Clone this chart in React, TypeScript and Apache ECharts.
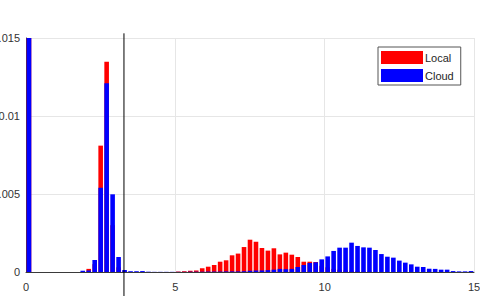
import React, { useEffect, useRef } from "react";
import * as echarts from "echarts";

// Histogram bins: 0.2 wide, starting at 0
const binStart = 0;
const binWidth = 0.2;

// Local (red) normalized counts per bin
const localValues = [
  0.015, 0, 0, 0, 0, 0, 0, 0, 0, 0,
  0.0002, 0.0005, 0.0081, 0.01348, 0.003, 0.0003, 0.00005, 0, 0, 0,
  0, 0, 0, 0, 0, 0.00003, 0.00005, 0.00008, 0.0001, 0.00024,
  0.00034, 0.00045, 0.00066, 0.00075, 0.00107, 0.00118, 0.0016, 0.00207, 0.00194, 0.00154,
  0.00137, 0.00152, 0.00113, 0.00124, 0.00111, 0.00096, 0.00066, 0.00066, 0.00064, 0.0004,
  0.0003, 0.0002, 0.00015, 0.0001, 0.00008, 0.00005, 0.00003, 0.00002, 0, 0,
  0, 0, 0, 0, 0, 0, 0, 0, 0, 0,
  0, 0, 0, 0, 0,
];

// Cloud (blue) normalized counts per bin
const cloudValues = [
  0.015, 0, 0, 0, 0, 0, 0, 0, 0, 0.00008,
  0.0001, 0.00077, 0.0054, 0.0121, 0.00498, 0.00096, 0.00013, 0.00005, 0.00005, 0.00006,
  0.00002, 0.00001, 0.00001, 0.00001, 0.00001, 0.00001, 0.00001, 0.00002, 0.00002, 0.00002,
  0.00003, 0.00003, 0.00003, 0.00004, 0.00004, 0.00004, 0.00005, 0.00008, 0.0001, 0.0001,
  0.00012, 0.00015, 0.0002, 0.00018, 0.0002, 0.00032, 0.00045, 0.00058, 0.00062, 0.00081,
  0.001, 0.00135, 0.00156, 0.00156, 0.00188, 0.00167, 0.00158, 0.00156, 0.00141, 0.00115,
  0.00098, 0.00092, 0.00073, 0.0006, 0.00049, 0.00034, 0.00032, 0.00021, 0.0002, 0.00015,
  0.00015, 0.00006, 0.00004, 0.00004, 0.00006,
];

// Vertical threshold marker
const thresholdX = 3.28;
const thresholdYRange = [-0.0017, 0.0153];

const seriesNames = ["Local", "Cloud"];
const xTicks = { min: 0, max: 15, interval: 5 };
const yTicks = { min: 0, max: 0.015, interval: 0.005 };

const toPoints = (vals: number[]) =>
  vals.map((v, i) => [binStart + binWidth * i + binWidth / 2, v]);

export default function App() {
  const ref = useRef<HTMLDivElement>(null);
  useEffect(() => {
    if (!ref.current) return;
    const chart = echarts.init(ref.current, undefined, { renderer: "svg" });
    const font = "Liberation Sans, Arial, Helvetica, sans-serif";
    chart.setOption({
      animation: false,
      backgroundColor: "#ffffff",
      textStyle: { fontFamily: font },
      grid: {
        left: 26,
        right: 6,
        top: 38,
        bottom: 24,
        containLabel: false,
        outerBoundsMode: "none",
      },
      legend: {
        data: seriesNames,
        orient: "vertical",
        left: 378,
        top: 47,
        icon: "rect",
        itemWidth: 42,
        itemHeight: 13,
        itemGap: 5,
        padding: [4, 7, 3, 3],
        borderColor: "#555555",
        borderWidth: 1,
        backgroundColor: "#ffffff",
        textStyle: { fontSize: 11, color: "#262626", fontFamily: font, padding: [0, 0, 0, -3] },
      },
      xAxis: {
        type: "value",
        min: xTicks.min,
        max: xTicks.max,
        interval: xTicks.interval,
        axisLine: { show: true, lineStyle: { color: "#3a3a3a", width: 1 } },
        axisTick: { show: false },
        axisLabel: { color: "#333333", fontSize: 11, margin: 9, fontFamily: font },
        splitLine: { show: true, lineStyle: { color: "#e6e6e6", width: 1 } },
      },
      yAxis: {
        type: "value",
        min: yTicks.min,
        max: yTicks.max,
        interval: yTicks.interval,
        axisLine: { show: true, lineStyle: { color: "#3a3a3a", width: 1 } },
        axisTick: { show: false },
        axisLabel: { color: "#333333", fontSize: 11, margin: 6, fontFamily: font },
        splitLine: { show: true, lineStyle: { color: "#e6e6e6", width: 1 } },
      },
      series: [
        {
          name: seriesNames[0],
          type: "bar",
          data: toPoints(localValues),
          barWidth: 4.6,
          barGap: "-100%",
          itemStyle: { color: "#ff0000" },
          z: 2,
        },
        {
          name: seriesNames[1],
          type: "bar",
          data: toPoints(cloudValues),
          barWidth: 4.6,
          barGap: "-100%",
          itemStyle: { color: "#0000ff" },
          z: 3,
        },
        {
          name: "threshold",
          type: "line",
          data: [
            [thresholdX, thresholdYRange[0]],
            [thresholdX, thresholdYRange[1]],
          ],
          clip: false,
          symbol: "none",
          lineStyle: { color: "#000000", width: 1 },
          z: 4,
        },
      ],
    });
    return () => chart.dispose();
  }, []);
  return (
    <div
      ref={ref}
      style={{ position: "fixed", left: 0, top: 0, width: 480, height: 296 }}
    />
  );
}
